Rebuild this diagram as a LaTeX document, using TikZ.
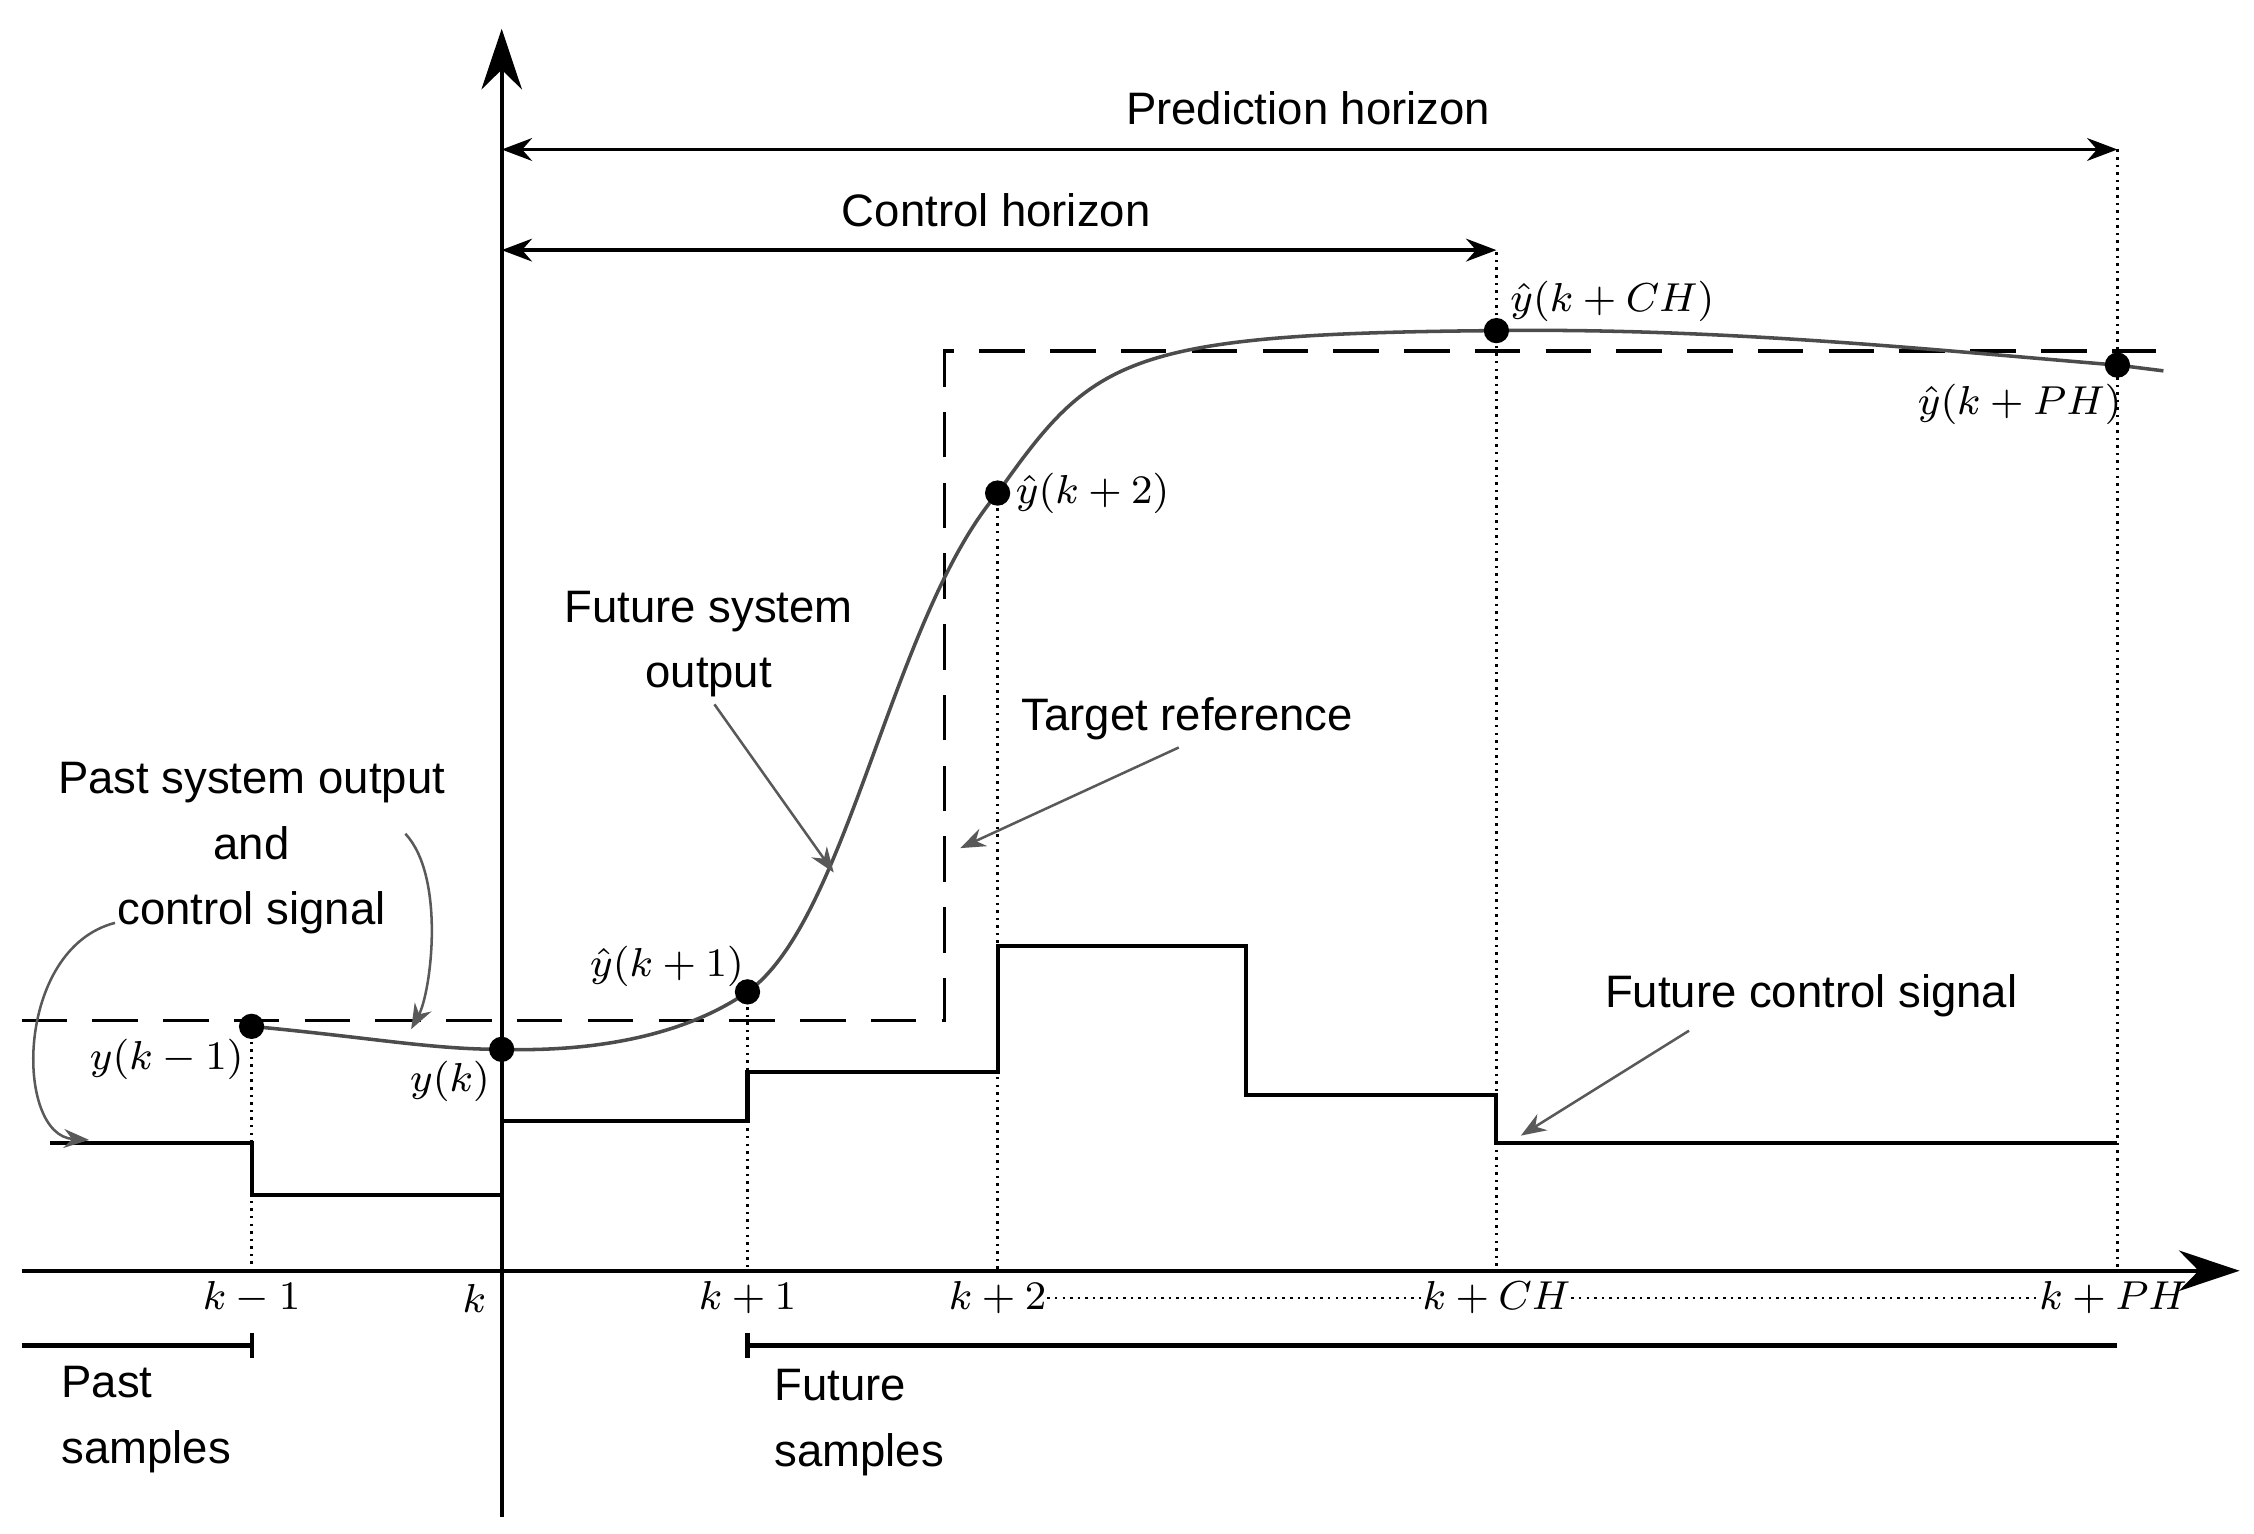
\documentclass[tikz,border=0pt]{standalone}
\usepackage{fontspec}
\setmainfont{Liberation Sans}
\usetikzlibrary{arrows.meta}
\begin{document}
\begin{tikzpicture}[x=0.01cm,y=-0.01cm,
  lbl/.style={font=\fontsize{9}{11}\selectfont,align=center,inner sep=0pt},
  mth/.style={inner sep=0pt,font=\footnotesize},
  dotl/.style={densely dotted,line width=0.5pt},
  pt/.style={circle,fill=black,inner sep=0pt,minimum size=5pt},
  ann/.style={gray!70!black,line width=0.5pt,-{Stealth[length=5pt]}},
  hz/.style={line width=0.7pt,{Stealth[length=6pt]}-{Stealth[length=6pt]}}]
\useasboundingbox (0,0) rectangle (1568,1067);
% axes
\coordinate (o) at (349,884);
\coordinate (yt) at (349,20);
\coordinate (yb) at (349,1055);
\coordinate (xl) at (15,884);
\coordinate (xr) at (1558,884);
\draw[line width=0.8pt,-{Stealth[length=12pt,width=8pt]}] (yb) -- (yt);
\draw[line width=0.8pt,-{Stealth[length=12pt,width=8pt]}] (xl) -- (xr);
% horizons
\coordinate (ph1) at (349,104); \coordinate (ph2) at (1473,104);
\coordinate (ch1) at (349,174); \coordinate (ch2) at (1041,174);
\draw[hz] (ph1) -- (ph2);
\draw[hz] (ch1) -- (ch2);
\node[lbl] (phl) at (910,75) {Prediction horizon};
\node[lbl] (chl) at (693,146) {Control horizon};
% target reference
\coordinate (r0) at (15,710); \coordinate (r1) at (657,710);
\coordinate (r2) at (657,244); \coordinate (r3) at (1500,244);
\draw[dashed,dash pattern=on 9pt off 5pt,line width=0.7pt] (r0) -- (r1) -- (r2) -- (r3);
% output curve
\coordinate (p0) at (175,714);
\coordinate (p1) at (349,730);
\coordinate (p2) at (520,690);
\coordinate (p3) at (694,343);
\coordinate (p4) at (1041,230);
\coordinate (p5) at (1473,254);
\coordinate (p6) at (1505,258);
\draw[gray!60!black,line width=0.7pt] (p0) .. controls (260,722) and (300,730) .. (p1)
  .. controls (420,732) and (480,718) .. (p2)
  .. controls (590,640) and (620,430) .. (p3)
  .. controls (760,250) and (780,232) .. (p4)
  .. controls (1200,228) and (1350,244) .. (p5) -- (p6);
% control signal
\coordinate (c0) at (35,795);
\draw[line width=0.8pt] (c0) -- (175,795) -- (175,831) -- (349,831) -- (349,780) -- (520,780) -- (520,746) -- (694,746) -- (694,658) -- (867,658) -- (867,762) -- (1041,762) -- (1041,795) -- (1473,795);
% dotted verticals
\coordinate (d1) at (175,884); \coordinate (d2) at (520,884); \coordinate (d3) at (694,884);
\coordinate (d4) at (1041,884); \coordinate (d5) at (1473,884);
\draw[dotl] (p0) -- (d1);
\draw[dotl] (p2) -- (d2);
\draw[dotl] (p3) -- (d3);
\draw[dotl] (p4) -- (d4);
\draw[dotl] (ph2) -- (d5);
\draw[dotl] (p4) -- (ch2);
% points
\foreach \p in {p0,p1,p2,p3,p4,p5} \node[pt] at (\p) {};
% point labels
\node[mth] (l0) at (116,737) {$y(k-1)$};
\node[mth] (l1) at (313,752) {$y(k)$};
\node[mth] (l2) at (464,672) {$\hat y(k+1)$};
\node[mth,anchor=west] (l3) at (706,343) {$\hat y(k+2)$};
\node[mth,anchor=west] (l4) at (1050,210) {$\hat y(k+CH)$};
\node[mth] (l5) at (1405,281) {$\hat y(k+PH)$};
% tick labels
\node[mth] (t1) at (175,903) {$k-1$};
\node[mth] (t2) at (330,903) {$k$};
\node[mth] (t3) at (520,903) {$k+1$};
\node[mth] (t4) at (694,903) {$k+2$};
\node[mth] (t5) at (1041,903) {$k+CH$};
\node[mth] (t6) at (1470,903) {$k+PH$};
\draw[dotl] (t4.east) -- (t5.west);
\draw[dotl] (t5.east) -- (t6.west);
% samples
\coordinate (s0) at (15,936); \coordinate (s1) at (175,936);
\coordinate (s2) at (520,936); \coordinate (s3) at (1473,936);
\draw[line width=0.8pt] (s0) -- (s1) ++(0,-9) -- ++(0,18);
\draw[line width=0.8pt] (s3) -- (s2) ++(0,-9) -- ++(0,18);
\node[lbl,align=left,anchor=north west,font=\fontsize{9}{13}\selectfont] (ps) at (42,950) {Past\\samples};
\node[lbl,align=left,anchor=north west,font=\fontsize{9}{13}\selectfont] (fs) at (538,952) {Future\\samples};
% annotations
\node[lbl,font=\fontsize{9}{13}\selectfont] (pso) at (175,590) {Past system output\\and\\control signal};
\coordinate (a1) at (62,793);
\coordinate (a2) at (286,716);
\draw[ann] (80,642) .. controls (10,660) and (10,790) .. (a1);
\draw[ann] (282,580) .. controls (310,610) and (300,690) .. (a2);
\node[lbl,font=\fontsize{9}{13}\selectfont] (fso) at (493,448) {Future system\\output};
\coordinate (a3) at (580,607);
\draw[ann] (497,490) -- (a3);
\node[lbl] (tr) at (826,500) {Target reference};
\coordinate (a4) at (668,590);
\draw[ann] (820,520) -- (a4);
\node[lbl] (fcs) at (1260,693) {Future control signal};
\coordinate (a5) at (1058,790);
\draw[ann] (1175,717) -- (a5);
\end{tikzpicture}
\end{document}
